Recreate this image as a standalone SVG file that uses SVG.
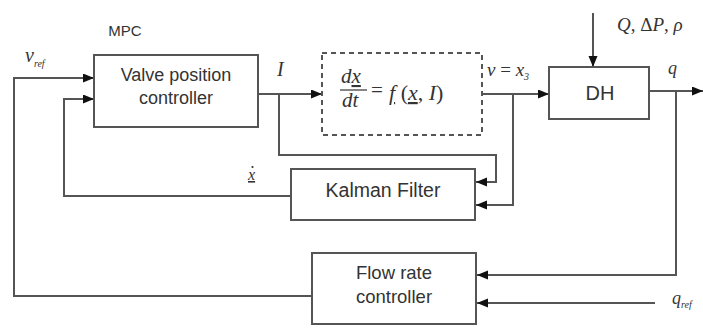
<svg xmlns="http://www.w3.org/2000/svg" width="703" height="329" viewBox="0 0 703 329">
<defs>
<marker id="arr" markerUnits="userSpaceOnUse" markerWidth="12" markerHeight="10" refX="11" refY="4.5" orient="auto">
<path d="M0,0 L11,4.5 L0,9 z" fill="#111"/>
</marker>
<style>
.box{fill:#fff;stroke:#555;stroke-width:2}
.dash{fill:none;stroke:#555;stroke-width:2;stroke-dasharray:5,4}
.ln{fill:none;stroke:#555;stroke-width:2;marker-end:url(#arr)}
.t{font-family:"Liberation Sans",Arial,sans-serif;fill:#333;text-anchor:middle}
.m{font-family:"Liberation Serif","Times New Roman",serif;font-style:italic;fill:#333}
.n{font-style:normal}
.s{font-size:10px}
</style>
</defs>
<rect width="703" height="329" fill="#fff"/>
<g id="connectors">
<path class="ln" d="M312,296 H14 V78 H94"/>
<path class="ln" d="M291,196 H64 V99 H94"/>
<path class="ln" d="M258,94 H322"/>
<path class="ln" d="M279,94 V155 H496 V182 H476"/>
<path class="ln" d="M482,94 H549"/>
<path class="ln" d="M513,94 V205 H476"/>
<path class="ln" d="M593,13 V67"/>
<path class="ln" d="M649,91 H703"/>
<path class="ln" d="M676,91 V275 H477"/>
<path class="ln" d="M655,303 H477"/>
</g>
<g id="mpc-label"><text class="t" x="125" y="36" font-size="15">MPC</text></g>
<g id="valve">
<rect class="box" x="94" y="55" width="164" height="72"/>
<text class="t" x="176" y="81" font-size="18">Valve position</text>
<text class="t" x="176" y="104" font-size="18">controller</text>
</g>
<g id="model">
<rect class="dash" x="322" y="53" width="160" height="82"/>
<text class="m" x="341" y="83" font-size="21">d<tspan text-decoration="underline">x</tspan></text>
<line x1="340" y1="90" x2="367" y2="90" stroke="#333" stroke-width="1.2"/>
<text class="m" x="342" y="107" font-size="21">dt</text>
<text class="m n" x="371" y="97" font-size="21">=</text>
<text class="m" x="389" y="100" font-size="22"><tspan text-decoration="underline">f</tspan><tspan class="n"> (</tspan><tspan text-decoration="underline">x</tspan><tspan class="n">, </tspan>I<tspan class="n">)</tspan></text>
</g>
<g id="dh">
<rect class="box" x="549" y="67" width="100" height="52"/>
<text class="t" x="600" y="100" font-size="20">DH</text>
</g>
<g id="kalman">
<rect class="box" x="291" y="169" width="184" height="51"/>
<text class="t" x="383" y="197" font-size="19.5">Kalman Filter</text>
</g>
<g id="flow">
<rect class="box" x="312" y="253" width="164" height="71"/>
<text class="t" x="394" y="279" font-size="18.5">Flow rate</text>
<text class="t" x="394" y="303" font-size="18.5">controller</text>
</g>
<g id="labels">
<text class="m" x="25" y="62" font-size="20">v<tspan class="s" dy="5">ref</tspan></text>
<text class="m" x="277" y="76" font-size="20">I</text>
<text class="m" x="487" y="76" font-size="19">v <tspan class="n">=</tspan> x<tspan class="s" dy="4">3</tspan></text>
<text class="m" x="617" y="31" font-size="19">Q<tspan class="n">, Δ</tspan>P<tspan class="n">,</tspan> ρ</text>
<text class="m" x="668" y="74" font-size="18">q</text>
<text class="m" x="248" y="180" font-size="16" text-decoration="underline">x</text>
<circle cx="252.5" cy="167" r="1.1" fill="#333"/>
<text class="m" x="672" y="304" font-size="18">q<tspan class="s" dy="4">ref</tspan></text>
</g>
</svg>
